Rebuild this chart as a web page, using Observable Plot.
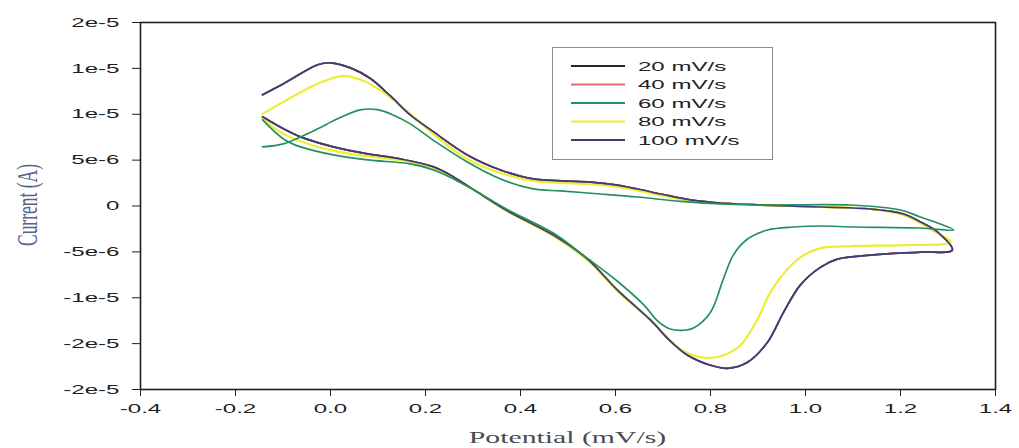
<!DOCTYPE html>
<html>
<head>
<meta charset="utf-8">
<script src="https://cdn.jsdelivr.net/npm/d3@7"></script>
<script src="https://cdn.jsdelivr.net/npm/@observablehq/plot@0.6"></script>
<style>
  body { margin: 0; background: #ffffff; }
  #wrap { position: relative; width: 1019px; height: 448px; overflow: hidden; background: #ffffff; }
  #legend { position: absolute; left: 552px; top: 47px; width: 219px; height: 111px; border: 1px solid #8c8c8c; background: #ffffff; }
</style>
</head>
<body>
<div id="wrap"><div id="legend"></div></div>
<script>
// ---- series labels and colours ----
const scanRates = ["20 mV/s", "40 mV/s", "60 mV/s", "80 mV/s", "100 mV/s"];
const rateColors = ["#262626", "#e06a6a", "#23915f", "#eeec34", "#3c3c76"];

// ---- axis ticks ----
const xTickValues = [-0.4, -0.2, 0.0, 0.2, 0.4, 0.6, 0.8, 1.0, 1.2, 1.4];
const yTickValues = [2e-5, 1.5e-5, 1e-5, 5e-6, 0, -5e-6, -1e-5, -1.5e-5, -2e-5];
const yTickLabels = ["2e-5", "1e-5", "1e-5", "5e-6", "0", "-5e-6", "-1e-5", "-2e-5", "-2e-5"];

// ---- data: potential (V) and current (µA), in scan order ----
const potential100 = [-0.143,-0.099,-0.063,0.006,0.078,0.147,0.217,0.259,0.309,0.373,0.469,0.541,0.604,0.674,0.713,0.752,0.800,0.836,0.878,0.920,0.954,0.989,1.032,1.067,1.137,1.242,1.309,1.278,1.242,1.206,1.137,1.032,0.905,0.830,0.760,0.700,0.646,0.600,0.541,0.427,0.358,0.288,0.217,0.168,0.126,0.084,0.042,0.000,-0.027,-0.099,-0.143];
const current100 = [9.72,8.41,7.53,6.44,5.68,5.13,4.26,3.17,1.53,-0.55,-3.17,-5.79,-9.17,-12.45,-14.6,-16.27,-17.36,-17.69,-17.03,-14.85,-11.57,-8.62,-6.66,-5.79,-5.35,-5.02,-4.80,-2.84,-1.75,-0.87,-0.33,-0.11,0.11,0.30,0.65,1.25,1.85,2.30,2.62,2.95,3.93,5.57,8.08,9.93,12.00,13.90,15.05,15.61,15.39,13.32,12.12];

// 20 and 40 mV/s lie underneath the 100 mV/s trace in the picture
const potential20 = [-0.143,-0.099,-0.063,0.006,0.078,0.147,0.217,0.259,0.309,0.373,0.469,0.541,0.604,0.674,0.713,0.752,0.800,0.836,0.878,0.920,0.954,0.989,1.032,1.067,1.137,1.242,1.309,1.278,1.242,1.206,1.137,1.032,0.905,0.830,0.760,0.700,0.646,0.600,0.541,0.427,0.358,0.288,0.217,0.168,0.126,0.084,0.042,0.000,-0.027,-0.099,-0.143];
const current20 = [9.72,8.41,7.53,6.44,5.68,5.13,4.26,3.17,1.53,-0.55,-3.17,-5.79,-9.17,-12.45,-14.6,-16.27,-17.36,-17.69,-17.03,-14.85,-11.57,-8.62,-6.66,-5.79,-5.35,-5.02,-4.80,-2.84,-1.75,-0.87,-0.33,-0.11,0.11,0.30,0.65,1.25,1.85,2.30,2.62,2.95,3.93,5.57,8.08,9.93,12.00,13.90,15.05,15.61,15.39,13.32,12.12];
const potential40 = [-0.143,-0.099,-0.063,0.006,0.078,0.147,0.217,0.259,0.309,0.373,0.469,0.541,0.604,0.674,0.713,0.752,0.800,0.836,0.878,0.920,0.954,0.989,1.032,1.067,1.137,1.242,1.309,1.278,1.242,1.206,1.137,1.032,0.905,0.830,0.760,0.700,0.646,0.600,0.541,0.427,0.358,0.288,0.217,0.168,0.126,0.084,0.042,0.000,-0.027,-0.099,-0.143];
const current40 = [9.72,8.41,7.53,6.44,5.68,5.13,4.26,3.17,1.53,-0.55,-3.17,-5.79,-9.17,-12.45,-14.6,-16.27,-17.36,-17.69,-17.03,-14.85,-11.57,-8.62,-6.66,-5.79,-5.35,-5.02,-4.80,-2.84,-1.75,-0.87,-0.33,-0.11,0.11,0.30,0.65,1.25,1.85,2.30,2.62,2.95,3.93,5.57,8.08,9.93,12.00,13.90,15.05,15.61,15.39,13.32,12.12];

const potential80 = [-0.143,-0.099,-0.027,0.042,0.168,0.217,0.259,0.309,0.373,0.469,0.541,0.604,0.674,0.737,0.779,0.821,0.863,0.899,0.926,0.962,0.996,1.032,1.101,1.206,1.305,1.263,1.206,1.137,1.032,0.905,0.830,0.760,0.700,0.646,0.600,0.541,0.427,0.358,0.288,0.211,0.168,0.112,0.069,0.027,-0.027,-0.099,-0.143];
const current80 = [9.50,7.86,6.44,5.68,4.80,4.04,3.06,1.53,-0.60,-3.28,-5.90,-9.28,-12.45,-15.61,-16.48,-16.38,-15.17,-12.34,-9.39,-6.88,-5.35,-4.59,-4.37,-4.26,-3.93,-2.51,-0.98,-0.33,-0.11,0.11,0.25,0.55,1.10,1.70,2.10,2.40,2.73,3.60,5.13,8.08,10.04,12.35,13.65,14.19,13.32,11.35,10.04];

const potential60 = [-0.143,-0.099,-0.063,0.006,0.078,0.168,0.217,0.259,0.309,0.373,0.469,0.533,0.604,0.660,0.690,0.715,0.740,0.764,0.800,0.827,0.848,0.878,0.920,0.975,1.032,1.101,1.242,1.312,1.284,1.242,1.200,1.095,0.905,0.820,0.737,0.646,0.568,0.484,0.427,0.358,0.288,0.217,0.168,0.133,0.099,0.063,0.015,-0.027,-0.063,-0.099,-0.143];
const current60 = [9.39,7.31,6.44,5.57,5.02,4.59,3.93,2.95,1.53,-0.40,-2.95,-5.40,-8.20,-10.80,-12.60,-13.40,-13.55,-13.30,-11.57,-7.97,-5.35,-3.60,-2.62,-2.29,-2.18,-2.29,-2.40,-2.62,-1.97,-1.20,-0.44,0.11,0.11,0.22,0.50,0.98,1.31,1.64,1.86,2.95,4.80,7.15,8.95,9.90,10.50,10.48,9.50,8.41,7.53,6.77,6.44];

// drawing order (60 mV/s drawn last as in the picture)
const seriesList = [
  {rate: "20 mV/s", potential: potential20, current: current20},
  {rate: "40 mV/s", potential: potential40, current: current40},
  {rate: "80 mV/s", potential: potential80, current: current80},
  {rate: "100 mV/s", potential: potential100, current: current100},
  {rate: "60 mV/s", potential: potential60, current: current60}
];

const rows = [];
for (const s of seriesList) {
  s.potential.forEach((p, i) => rows.push({rate: s.rate, potential: p, current: s.current[i] * 1e-6}));
}

const chart = Plot.plot({
  width: 1019,
  height: 448,
  marginLeft: 140,
  marginRight: 24,
  marginTop: 22,
  marginBottom: 59,
  style: {fontFamily: "'Liberation Sans', Arial, sans-serif", fontSize: "13px", color: "#1e1e1e", background: "#ffffff"},
  x: {
    domain: [-0.4, 1.4],
    ticks: xTickValues,
    tickFormat: d => d.toFixed(1),
    tickSize: 7,
    tickPadding: 7,
    label: null
  },
  y: {
    domain: [-2e-5, 2e-5],
    ticks: yTickValues,
    tickFormat: d => yTickLabels[yTickValues.findIndex(v => Math.abs(v - d) < 1e-10)],
    tickSize: 8,
    tickPadding: 13,
    label: null
  },
  color: {domain: scanRates, range: rateColors},
  marks: [
    Plot.line(rows, {
      x: "potential",
      y: "current",
      z: "rate",
      stroke: "rate",
      strokeWidth: d => d.rate === "80 mV/s" ? 2.2 : 1.7,
      curve: "catmull-rom"
    }),
    Plot.frame({stroke: "#1e1e1e", strokeWidth: 1.6})
  ]
});

document.getElementById("wrap").prepend(chart);
const svg = d3.select(chart.tagName.toLowerCase() === "svg" ? chart : chart.querySelector("svg"));

// horizontally stretched tick labels, as in the reference
svg.selectAll("text").each(function () {
  const len = this.getComputedTextLength();
  if (len > 0) {
    this.setAttribute("textLength", (len * 1.85).toFixed(1));
    this.setAttribute("lengthAdjust", "spacingAndGlyphs");
  }
});

// axis titles
const xt = svg.append("text")
  .attr("x", (140 + 995) / 2)
  .attr("y", 443)
  .attr("text-anchor", "middle")
  .style("font-family", "'Liberation Serif', 'Times New Roman', serif")
  .style("font-size", "17px")
  .attr("fill", "#4a4a4a")
  .text("Potential (mV/s)");
xt.attr("textLength", (xt.node().getComputedTextLength() * 1.75).toFixed(1)).attr("lengthAdjust", "spacingAndGlyphs");

svg.append("text")
  .attr("transform", "translate(27,205) rotate(-90) scale(1,1.7)")
  .attr("text-anchor", "middle")
  .attr("dy", "0.35em")
  .style("font-family", "'Liberation Serif', 'Times New Roman', serif")
  .style("font-size", "17.5px")
  .attr("fill", "#56648a")
  .text("Current (A)");

// legend
const lg = d3.select("#legend").append("svg").attr("width", 219).attr("height", 111);
scanRates.forEach((r, i) => {
  const cy = 18 + i * 18.5;
  lg.append("line").attr("x1", 18).attr("x2", 72).attr("y1", cy).attr("y2", cy)
    .attr("stroke", rateColors[i]).attr("stroke-width", 1.8);
  const t = lg.append("text").attr("x", 85).attr("y", cy).attr("dy", "0.36em")
    .style("font-family", "'Liberation Sans', Arial, sans-serif")
    .style("font-size", "13.5px")
    .attr("fill", "#222")
    .text(r);
  t.attr("textLength", (t.node().getComputedTextLength() * 1.78).toFixed(1)).attr("lengthAdjust", "spacingAndGlyphs");
});
</script>
</body>
</html>
